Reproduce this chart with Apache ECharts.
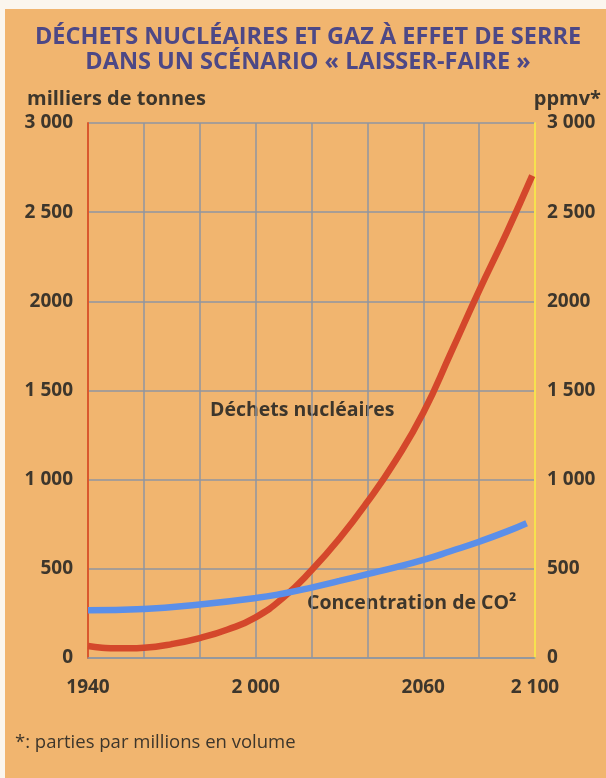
<!DOCTYPE html>
<html lang="fr">
<head>
    <meta charset="UTF-8">
    <title>Déchets nucléaires et gaz à effet de serre</title>
    <script src="https://cdn.jsdelivr.net/npm/echarts@6/dist/echarts.min.js"></script>
    <style>
        html, body { margin: 0; padding: 0; background: #fbf6ee; }
        #main { position: absolute; left: 5px; top: 9px; width: 601px; height: 769px; }
    </style>
</head>
<body>
    <div id="main"></div>
<script type="text/javascript">
    // valeurs
    var wasteYears = [1940, 1945, 1950, 1955, 1960, 1970, 1980, 1990, 2000, 2010, 2020, 2030, 2040, 2050, 2060, 2070, 2080, 2090, 2099];
    var wasteValues = [67, 58, 54, 54, 57, 78, 112, 160, 228, 340, 492, 670, 875, 1105, 1375, 1715, 2060, 2390, 2705];
    var co2Years = [1940, 1960, 1980, 2000, 2010, 2020, 2030, 2040, 2050, 2060, 2070, 2080, 2090, 2097];
    var co2Values = [268, 275, 300, 336, 362, 395, 432, 470, 508, 550, 600, 652, 710, 756];

    var xLabelYears = [1940, 2000, 2060, 2100];
    var xLabelTexts = ['1940', '2 000', '2060', '2 100'];
    var yTickValues = [0, 500, 1000, 1500, 2000, 2500, 3000];
    var yLeftLabels = ['0', '500', '1 000', '1 500', '2000', '2 500', '3 000'];
    var yRightLabels = ['0', '500', '1 000', '1 500', '2000', '2 500', '3 000'];

    function pairs(xs, ys) {
        var out = [];
        for (var i = 0; i < xs.length; i++) {
            out.push([xs[i], ys[i]]);
        }
        return out;
    }

    var font = '"Open Sans", "Noto Sans", sans-serif';
    var ink = '#3d362c';
    var gridColor = '#8f96a0';

    var myChart = echarts.init(document.getElementById('main'));

    var option = {
        backgroundColor: '#f1b56f',
        animation: false,
        title: {
            text: 'DÉCHETS NUCLÉAIRES ET GAZ À EFFET DE SERRE\nDANS UN SCÉNARIO « LAISSER-FAIRE »',
            left: 298,
            top: 11,
            textAlign: 'center',
            textStyle: {
                fontFamily: font,
                fontSize: 23.5,
                fontWeight: 'bold',
                color: '#4d4886',
                lineHeight: 25
            }
        },
        grid: { left: 83, right: 71, top: 114, bottom: 120 },
        xAxis: {
            type: 'value',
            min: 1940,
            max: 2100,
            interval: 20,
            axisLine: { show: true, lineStyle: { color: gridColor, width: 1.5 } },
            axisTick: { show: false },
            splitLine: { show: true, lineStyle: { color: gridColor, width: 1.5 } },
            axisLabel: {
                margin: 20,
                fontFamily: font,
                fontSize: 19,
                fontWeight: 'bold',
                color: ink,
                formatter: function (v) {
                    var i = xLabelYears.indexOf(v);
                    return i >= 0 ? xLabelTexts[i] : '';
                }
            }
        },
        yAxis: [{
            type: 'value',
            position: 'left',
            min: 0,
            max: 3000,
            interval: 500,
            axisLine: { show: true, lineStyle: { color: '#d9582e', width: 2 } },
            axisTick: { show: false },
            splitLine: { show: true, lineStyle: { color: gridColor, width: 1.5 } },
            axisLabel: {
                margin: 15,
                fontFamily: font,
                fontSize: 19,
                fontWeight: 'bold',
                color: ink,
                formatter: function (v) {
                    return yLeftLabels[yTickValues.indexOf(v)];
                }
            }
        }, {
            type: 'value',
            position: 'right',
            min: 0,
            max: 3000,
            interval: 500,
            axisLine: { show: true, lineStyle: { color: '#f6e24e', width: 2 } },
            axisTick: { show: false },
            splitLine: { show: false },
            axisLabel: {
                margin: 12,
                fontFamily: font,
                fontSize: 19,
                fontWeight: 'bold',
                color: ink,
                formatter: function (v) {
                    return yRightLabels[yTickValues.indexOf(v)];
                }
            }
        }],
        series: [{
            name: 'Déchets nucléaires',
            type: 'line',
            yAxisIndex: 0,
            smooth: 0.5,
            showSymbol: false,
            lineStyle: { color: '#d4472b', width: 6.5 },
            data: pairs(wasteYears, wasteValues)
        }, {
            name: 'Concentration de CO²',
            type: 'line',
            yAxisIndex: 1,
            smooth: 0.5,
            showSymbol: false,
            lineStyle: { color: '#5b8fe9', width: 6.5 },
            data: pairs(co2Years, co2Values)
        }],
        graphic: [{
            type: 'text', left: 22, top: 80,
            style: { text: 'milliers de tonnes', font: 'bold 20px ' + font, fill: ink }
        }, {
            type: 'text', right: 5, top: 80,
            style: { text: 'ppmv*', font: 'bold 20px ' + font, fill: ink }
        }, {
            type: 'text', left: 205, top: 391,
            style: { text: 'Déchets nucléaires', font: 'bold 19.5px ' + font, fill: ink }
        }, {
            type: 'text', left: 302, top: 584,
            style: { text: 'Concentration de CO²', font: 'bold 19.5px ' + font, fill: ink }
        }, {
            type: 'text', left: 10, top: 724,
            style: { text: '*: parties par millions en volume', font: '18.5px ' + font, fill: ink }
        }]
    };

    myChart.setOption(option);
</script>
</body>
</html>
